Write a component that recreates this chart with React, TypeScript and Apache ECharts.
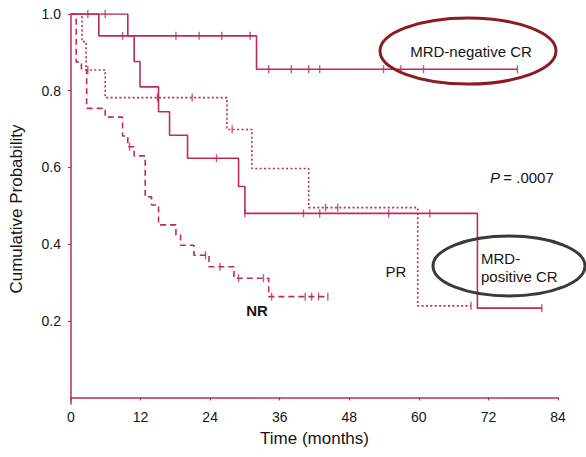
import React, { useEffect, useRef } from "react";
import * as echarts from "echarts";

// Kaplan–Meier curves: step times (months) and survival probability after each step
const mrdNegTimes = [0, 4.8, 32.0, 77.0];
const mrdNegSurv = [1.0, 0.943, 0.856, 0.856];
const mrdNegCensored = [2.9, 8.9, 18.1, 22.1, 26.0, 30.9, 34.1, 38.0, 41.0, 42.9, 53.9, 56.9, 60.8, 77.0];

const mrdPosTimes = [0, 9.8, 10.9, 11.9, 15.1, 17.0, 20.1, 28.9, 30.0, 70.1, 81.2];
const mrdPosSurv = [1.0, 0.943, 0.876, 0.81, 0.745, 0.684, 0.624, 0.55, 0.48, 0.233, 0.233];
const mrdPosCensored = [5.9, 25.1, 30.0, 40.1, 42.9, 54.8, 61.9, 81.2];

const prTimes = [0, 1.9, 2.6, 5.9, 26.9, 31.2, 41.0, 59.8, 69.0];
const prSurv = [1.0, 0.928, 0.854, 0.782, 0.699, 0.597, 0.495, 0.239, 0.239];
const prCensored = [2.9, 14.9, 20.9, 27.8, 43.9, 46.0, 69.0];

const nrTimes = [0, 0.9, 1.8, 2.7, 5.9, 8.9, 9.8, 10.9, 12.8, 13.9, 15.1, 18.1, 18.9, 21.2, 23.8, 28.1, 34.1, 44.3];
const nrSurv = [1.0, 0.875, 0.854, 0.754, 0.731, 0.682, 0.654, 0.63, 0.523, 0.502, 0.45, 0.424, 0.397, 0.371, 0.341, 0.311, 0.263, 0.263];
const nrCensored = [10.1, 23.2, 25.7, 28.9, 33.2, 34.6, 40.4, 41.5, 42.7, 44.3];

const yTicks = [0.2, 0.4, 0.6, 0.8, 1.0];

const CURVE = "#bb2a62";
const TEXT = "#151515";
const FONT = "Liberation Sans, Arial, sans-serif";

function pairs(times: number[], surv: number[]) {
  return times.map((t, i) => [t, surv[i]]);
}

// survival level in effect at time t
function levelAt(times: number[], surv: number[], t: number) {
  let v = surv[0];
  for (let i = 0; i < times.length; i++) {
    if (times[i] <= t) v = surv[i];
  }
  return v;
}

function censorPoints(times: number[], surv: number[], cens: number[]) {
  return cens.map((t) => [t, levelAt(times, surv, t)]);
}

function curve(name: string, times: number[], surv: number[], type: any) {
  return {
    name,
    type: "line",
    step: "end",
    data: pairs(times, surv),
    showSymbol: false,
    symbol: "none",
    lineStyle: { color: CURVE, width: 1.6, type },
    z: 3,
  };
}

function censors(name: string, times: number[], surv: number[], cens: number[]) {
  return {
    name: name + " censored",
    type: "scatter",
    data: censorPoints(times, surv, cens),
    symbol: "rect",
    symbolSize: [1.4, 8],
    itemStyle: { color: CURVE },
    z: 4,
  };
}

export default function App() {
  const ref = useRef<HTMLDivElement>(null);

  useEffect(() => {
    document.body.style.margin = "0";
    const chart = echarts.init(ref.current!, null, { renderer: "svg" });
    chart.setOption({
      animation: false,
      backgroundColor: "#ffffff",
      textStyle: { fontFamily: FONT },
      grid: { left: 68, right: 28, top: 14, bottom: 53 },
      xAxis: {
        type: "value",
        min: 0,
        max: 84,
        interval: 12,
        name: "Time (months)",
        nameLocation: "middle",
        nameGap: 26,
        nameTextStyle: { color: TEXT, fontSize: 17, fontFamily: FONT },
        axisLine: { lineStyle: { color: CURVE, width: 1.5 } },
        axisTick: { length: 3, lineStyle: { color: CURVE, width: 1.2 } },
        axisLabel: { color: TEXT, fontSize: 14, margin: 6, fontFamily: FONT },
        splitLine: { show: false },
      },
      yAxis: {
        type: "value",
        min: -0.017,
        max: 1,
        name: "Cumulative Probability",
        nameLocation: "middle",
        nameGap: 46,
        nameTextStyle: { color: TEXT, fontSize: 17, fontFamily: FONT },
        axisLine: { show: true, lineStyle: { color: CURVE, width: 1.5 } },
        axisTick: { show: true, length: 3, customValues: yTicks, lineStyle: { color: CURVE, width: 1.2 } },
        axisLabel: {
          color: TEXT,
          fontSize: 14,
          margin: 10,
          fontFamily: FONT,
          customValues: yTicks,
          formatter: (v: number) => v.toFixed(1),
        },
        splitLine: { show: false },
      },
      series: [
        curve("MRD-negative CR", mrdNegTimes, mrdNegSurv, "solid"),
        censors("MRD-negative CR", mrdNegTimes, mrdNegSurv, mrdNegCensored),
        curve("MRD-positive CR", mrdPosTimes, mrdPosSurv, "solid"),
        censors("MRD-positive CR", mrdPosTimes, mrdPosSurv, mrdPosCensored),
        curve("PR", prTimes, prSurv, [2, 2.4]),
        censors("PR", prTimes, prSurv, prCensored),
        curve("NR", nrTimes, nrSurv, [6, 4]),
        censors("NR", nrTimes, nrSurv, nrCensored),
      ],
      graphic: [
        {
          type: "ellipse",
          shape: { cx: 468, cy: 51, rx: 88, ry: 33 },
          style: { fill: "none", stroke: "#8a1c22", lineWidth: 3 },
          z: 10,
        },
        {
          type: "text",
          x: 471,
          y: 51,
          style: { text: "MRD-negative CR", fill: TEXT, font: `15px ${FONT}`, align: "center", verticalAlign: "middle" },
          z: 11,
        },
        {
          type: "ellipse",
          shape: { cx: 509, cy: 266, rx: 76, ry: 30 },
          style: { fill: "none", stroke: "#3a3a3a", lineWidth: 3 },
          z: 10,
        },
        {
          type: "text",
          x: 481,
          y: 267,
          style: { text: "MRD-\npositive CR", fill: TEXT, font: `15px ${FONT}`, align: "left", verticalAlign: "middle", lineHeight: 18 },
          z: 11,
        },
        {
          type: "text",
          x: 396,
          y: 271,
          style: { text: "PR", fill: TEXT, font: `15px ${FONT}`, align: "center", verticalAlign: "middle" },
          z: 11,
        },
        {
          type: "text",
          x: 257,
          y: 310,
          style: { text: "NR", fill: TEXT, font: `bold 15px ${FONT}`, align: "center", verticalAlign: "middle" },
          z: 11,
        },
        {
          type: "text",
          x: 490,
          y: 177,
          style: {
            rich: {
              p: { fontStyle: "italic", fontSize: 15, fontFamily: FONT, fill: TEXT },
              v: { fontSize: 15, fontFamily: FONT, fill: TEXT },
            },
            text: "{p|P} {v|= .0007}",
            verticalAlign: "middle",
          },
          z: 11,
        },
      ],
    });
    return () => chart.dispose();
  }, []);

  return <div ref={ref} style={{ width: 586, height: 457 }} />;
}
